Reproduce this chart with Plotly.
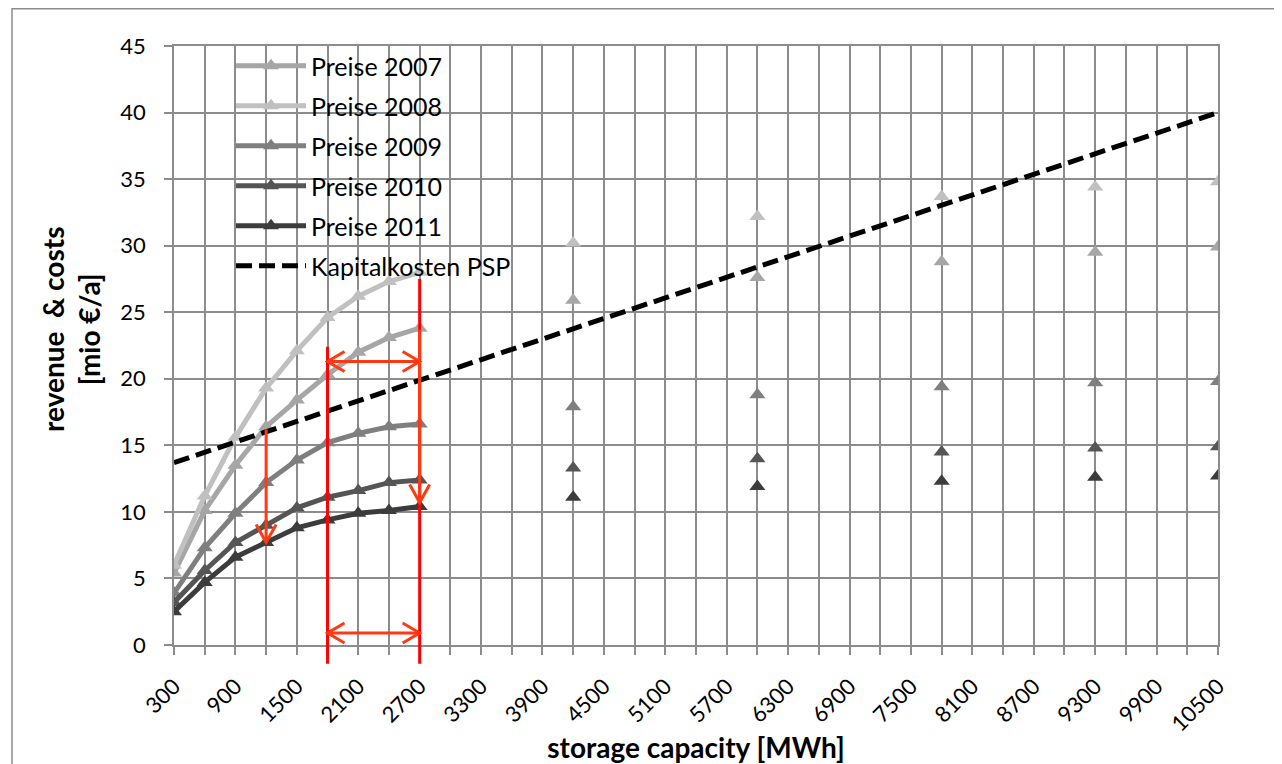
import plotly.graph_objects as go

# ---------------- data ----------------
capacity_mwh = [300, 600, 900, 1200, 1500, 1800, 2100, 2400, 2700,
                4200, 6000, 7800, 9300, 10500]
preise_2007 = [5.4, 10.1, 13.5, 16.4, 18.4, 20.3, 22.0, 23.1, 23.8,
               25.9, 27.6, 28.8, 29.5, 29.9]
preise_2008 = [6.0, 11.2, 15.6, 19.3, 22.1, 24.6, 26.2, 27.3, 28.0,
               30.2, 32.2, 33.7, 34.4, 34.8]
preise_2009 = [3.9, 7.3, 9.9, 12.2, 13.9, 15.2, 15.9, 16.4, 16.6,
               17.9, 18.8, 19.4, 19.7, 19.8]
preise_2010 = [3.2, 5.6, 7.7, 9.0, 10.3, 11.1, 11.6, 12.2, 12.4,
               13.3, 14.0, 14.5, 14.8, 14.9]
preise_2011 = [2.5, 4.7, 6.6, 7.7, 8.8, 9.4, 9.9, 10.1, 10.4,
               11.1, 11.9, 12.3, 12.6, 12.7]

kapital_capacity = [300, 10500]
kapital_kosten = [13.7, 40.0]

# category axis: 300 ... 10500 in steps of 300 (Excel category axis)
categories = list(range(300, 10501, 300))
x_tick_labels = [str(c) for c in range(300, 10501, 600)]

# annotation values
span_capacity = [1800, 2700]
span_arrow_levels = [21.3, 0.9]
span_line_tops = [22.4, 27.5]
drop_arrows = [  # (capacity, from value, to value)
    (1200, 16.2, 7.7),
    (2700, 23.7, 10.7),
]

series = [
    ("Preise 2007", preise_2007, "#a6a6a6"),
    ("Preise 2008", preise_2008, "#c0c0c0"),
    ("Preise 2009", preise_2009, "#7f7f7f"),
    ("Preise 2010", preise_2010, "#555555"),
    ("Preise 2011", preise_2011, "#3c3c3c"),
]

FONT = "Lato, 'Open Sans', sans-serif"
GRID = "#8c8c8c"
RED = "#ff0000"
ARROW = "#ff3a12"

fig = go.Figure()

for name, vals, color in series:
    lookup = dict(zip(capacity_mwh, vals))
    y_full = [lookup.get(c) for c in categories]
    fig.add_trace(go.Scatter(
        x=categories, y=y_full, name=name, legendgroup=name,
        mode="lines+markers", connectgaps=False,
        line=dict(color=color, width=5),
        marker=dict(symbol="triangle-up", size=14, color=color),
    ))

fig.add_trace(go.Scatter(
    x=kapital_capacity, y=kapital_kosten, name="Kapitalkosten PSP",
    legendgroup="kap", mode="lines",
    line=dict(color="black", width=5, dash="16px,7px"),
))

YMAX = 45.0
shapes = []
# red vertical lines (extend slightly below the axis)
for cap, top in zip(span_capacity, span_line_tops):
    shapes.append(dict(type="line", xref="x", yref="paper",
                       x0=cap, x1=cap, y0=-1.4 / YMAX, y1=top / YMAX,
                       line=dict(color=RED, width=3), layer="above"))

# horizontal double-headed arrows
for lvl in span_arrow_levels:
    shapes.append(dict(type="line", xref="x", yref="y",
                       x0=span_capacity[0], x1=span_capacity[1], y0=lvl, y1=lvl,
                       line=dict(color=ARROW, width=3), layer="above"))
    shapes.append(dict(type="path", xref="x", yref="y",
                       xsizemode="pixel", ysizemode="pixel",
                       xanchor=span_capacity[0], yanchor=lvl,
                       path="M 17,10 L 0,0 L 17,-10",
                       line=dict(color=ARROW, width=3), layer="above"))
    shapes.append(dict(type="path", xref="x", yref="y",
                       xsizemode="pixel", ysizemode="pixel",
                       xanchor=span_capacity[1], yanchor=lvl,
                       path="M -17,10 L 0,0 L -17,-10",
                       line=dict(color=ARROW, width=3), layer="above"))

# vertical drop arrows
for cap, v_from, v_to in drop_arrows:
    shapes.append(dict(type="line", xref="x", yref="y",
                       x0=cap, x1=cap, y0=v_from, y1=v_to,
                       line=dict(color=ARROW, width=3), layer="above"))
    shapes.append(dict(type="path", xref="x", yref="y",
                       xsizemode="pixel", ysizemode="pixel",
                       xanchor=cap, yanchor=v_to,
                       path="M -10,18 L 0,0 L 10,18",
                       line=dict(color=ARROW, width=3), layer="above"))

# page has an 8px body margin: figure is placed at (8, 8) on screen
W, H = 1274, 756
L, R, T, B = 166, 64, 38, 119
pw, ph = W - L - R, H - T - B

# outer chart-area border
shapes.append(dict(type="rect", xref="paper", yref="paper",
                   x0=(4 - L) / pw, x1=(W + 10 - L) / pw,
                   y0=-(B + 10) / ph, y1=(ph + T - 0.8) / ph,
                   line=dict(color="#8c8c8c", width=1.5),
                   fillcolor="rgba(0,0,0,0)", layer="below"))

fig.update_layout(
    width=W, height=H,
    margin=dict(l=L, r=R, t=T, b=B, autoexpand=False),
    paper_bgcolor="white", plot_bgcolor="white",
    font=dict(family=FONT, size=22, color="black"),
    showlegend=True,
    legend=dict(x=(223 - L) / pw, y=1.0 + 3 / ph, xanchor="left", yanchor="top",
                bgcolor="rgba(0,0,0,0)", borderwidth=0,
                font=dict(size=25, color="black"),
                itemwidth=70, tracegroupgap=4.5, traceorder="grouped"),
    shapes=shapes,
    annotations=[dict(
        text="<b>revenue  &amp; costs<br>[mio €/a]</b>",
        xref="paper", yref="paper",
        x=(63 - L) / pw, y=(ph + T - 322) / ph,
        xanchor="center", yanchor="middle", textangle=-90,
        showarrow=False, font=dict(size=28, color="black"),
    )],
)

fig.update_xaxes(
    range=[300, 10500], tickmode="array",
    tickvals=[int(t) for t in x_tick_labels], ticktext=x_tick_labels,
    tickangle=-45, ticks="outside", ticklen=8, tickcolor=GRID, tickwidth=1.5,
    ticklabelstandoff=10,
    showgrid=True, gridcolor=GRID, gridwidth=1.5,
    minor=dict(tickmode="array", tickvals=categories, ticks="outside", ticklen=8,
               tickcolor=GRID, tickwidth=1.5, showgrid=True, gridcolor=GRID,
               gridwidth=1.5),
    showline=True, linecolor=GRID, linewidth=1.5, mirror=True, zeroline=False,
    title=dict(text="<b>storage capacity [MWh]</b>", font=dict(size=28), standoff=8),
    automargin=False,
)
fig.update_yaxes(
    range=[0, 45], dtick=5, tick0=0,
    ticks="outside", ticklen=8, tickcolor=GRID, tickwidth=1.5,
    ticklabelstandoff=14,
    showgrid=True, gridcolor=GRID, gridwidth=1.5,
    showline=True, linecolor=GRID, linewidth=1.5, mirror=True, zeroline=False,
    automargin=False,
)

fig.write_html("out.html")
